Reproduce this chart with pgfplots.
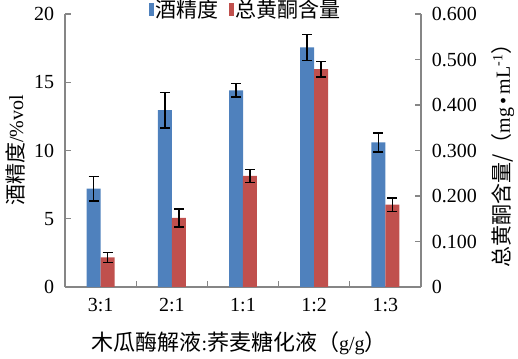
\documentclass[border=0pt]{standalone}
\usepackage{fontspec}
\setmainfont{Liberation Serif}
\newfontfamily\cjk{Noto Sans CJK SC}
\usepackage{pgfplots}
\pgfplotsset{compat=1.18}
\definecolor{barblue}{RGB}{79,129,189}
\definecolor{barred}{RGB}{192,80,77}
\definecolor{axisgray}{RGB}{134,134,134}
\pgfplotsset{
  common/.style={
    at={(0,0)}, anchor=south west,
    scale only axis, width=356bp, height=273bp,
    xmin=-0.5, xmax=4.5,
    axis line style={draw=axisgray, line width=1.3bp, -},
    tick style={draw=axisgray, line width=1.3bp},
    major tick length=6bp,
    tick align=inside,
    /pgf/number format/assume math mode=true,
    tick label style={font=\fontsize{20bp}{24bp}\selectfont},
  },
}
\begin{document}
\fontsize{20bp}{24bp}\selectfont
\begin{tikzpicture}
\useasboundingbox (-65bp,-72bp) rectangle (453bp,287bp);
\begin{axis}[common,
  ymin=0, ymax=20,
  axis x line*=bottom, axis y line*=left,
  ytick={0,5,10,15,20},
  yticklabel style={xshift=-4bp},
  xtick={0.5,1.5,2.5,3.5}, xticklabels={},
  extra x ticks={0,1,2,3,4},
  extra x tick labels={3:1,2:1,1:1,1:2,1:3},
  extra x tick style={major tick length=0pt, tick label style={yshift=-4bp}},
  ylabel={{\cjk\fontsize{21bp}{24bp}\selectfont 酒精度}/\%vol},
  ylabel style={at={(axis description cs:-0.14,0.5)}, anchor=center},
  xlabel={{\cjk\fontsize{22bp}{24bp}\selectfont 木瓜酶解液}:{\cjk\fontsize{22bp}{24bp}\selectfont 荞麦糖化液（}g/g{\cjk\fontsize{22bp}{24bp}\selectfont ）}},
  xlabel style={at={(axis description cs:0.489,-0.205)}, anchor=center},
]
\addplot[ybar, bar width=14bp, bar shift=0pt, fill=barblue, draw=none,
  error bars/.cd, y dir=both, y explicit,
  error bar style={black, line width=1.6bp},
  error mark options={black, line width=1.6bp, mark size=5bp, rotate=90}]
  coordinates {
  (-0.0983,7.2) +- (0,0.9)
  (0.9017,12.95) +- (0,1.3)
  (1.9017,14.4) +- (0,0.5)
  (2.9017,17.55) +- (0,0.95)
  (3.9017,10.6) +- (0,0.7)
};
\end{axis}
\begin{axis}[common,
  ymin=0, ymax=0.6,
  axis x line=none, axis y line*=right,
  ytick={0,0.1,0.2,0.3,0.4,0.5,0.6},
  yticklabels={0,0.100,0.200,0.300,0.400,0.500,0.600},
  yticklabel style={xshift=4bp},
  ylabel={{\cjk\fontsize{21bp}{24bp}\selectfont 总黄酮含量/（}mg\,•\,mL\textsuperscript{-1}{\cjk\fontsize{21bp}{24bp}\selectfont ）}},
  ylabel style={at={(axis description cs:1.2303,0.5)}, anchor=center, rotate=0},
  legend style={draw=none, fill=none, at={(axis description cs:0.508,1.0147)}, anchor=center,
    legend columns=2, font=\cjk\fontsize{21bp}{24bp}\selectfont,
    /tikz/every even column/.append style={column sep=8bp},
    inner sep=0pt},
  legend image code/.code={\fill[#1] (0bp,-6.5bp) rectangle (5bp,6.5bp);},
]
\addlegendimage{fill=barblue, draw=none}
\addlegendentry{酒精度}
\addplot[ybar, bar width=14bp, bar shift=0pt, fill=barred, draw=none,
  error bars/.cd, y dir=both, y explicit,
  error bar style={black, line width=1.6bp},
  error mark options={black, line width=1.6bp, mark size=5bp, rotate=90}]
  coordinates {
  (0.0983,0.065) +- (0,0.011)
  (1.0983,0.152) +- (0,0.02)
  (2.0983,0.244) +- (0,0.014)
  (3.0983,0.479) +- (0,0.017)
  (4.0983,0.181) +- (0,0.015)
};
\addlegendentry{总黄酮含量}
\end{axis}
\end{tikzpicture}
\end{document}
